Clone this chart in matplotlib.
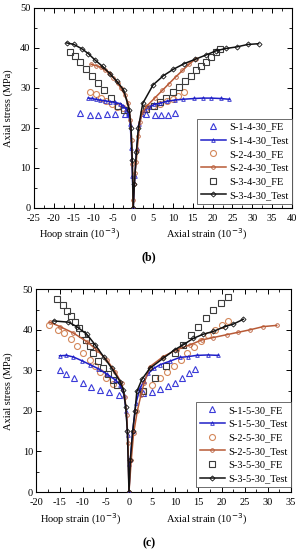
import matplotlib
matplotlib.use("Agg")
import matplotlib.pyplot as plt
from matplotlib.ticker import MultipleLocator

plt.rcParams['font.family'] = ['Liberation Serif', 'DejaVu Serif']
plt.rcParams['axes.unicode_minus'] = False
plt.rcParams['font.size'] = 7.5

# ---------------- Panel (b) data ----------------
b_names = ["S-1-4-30", "S-2-4-30", "S-3-4-30"]

b1_fe_x = [-13.3, -11.0, -8.8, -6.7, -4.6, -2.1, 3.3, 5.4, 7.1, 8.8, 10.4]
b1_fe_y = [23.6, 23.2, 23.2, 23.4, 23.4, 23.4, 23.4, 23.2, 23.2, 23.2, 23.6]
b1_t_x = [-11.3, -10.5, -9.5, -8.3, -7.0, -5.8, -4.5, -3.3, -2.5, -1.7, -1.2, -0.75, -0.45, -0.2, 0.0,
          0.4, 0.9, 1.5, 2.2, 2.9, 4.0, 5.3, 6.7, 8.5, 10.4, 12.5, 15.4, 17.5, 19.6, 22.0, 24.2]
b1_t_y = [27.4, 27.3, 27.1, 26.9, 26.7, 26.5, 26.3, 26.0, 25.5, 24.6, 23.5, 21.0, 15.0, 8.0, 0.0,
          8.0, 15.0, 21.0, 23.5, 24.4, 25.2, 25.8, 26.1, 26.6, 26.9, 27.1, 27.3, 27.4, 27.4, 27.3, 27.1]

b2_fe_x = [-10.8, -9.4, -8.1, -6.8, -5.4, -4.0, -2.5, 3.3, 5.0, 6.7, 8.4, 10.0, 11.4, 12.9]
b2_fe_y = [29.0, 28.35, 27.5, 26.7, 25.85, 25.25, 24.85, 24.8, 25.3, 25.9, 26.6, 27.2, 27.9, 29.0]
b2_t_x = [-10.6, -9.3, -8.1, -7.1, -6.0, -5.0, -3.9, -3.1, -2.1, -1.25, -0.7, -0.4, -0.2, 0.0,
          0.05, 0.25, 0.45, 0.75, 1.0, 1.3, 1.7, 2.3, 3.5, 5.5, 7.3, 9.0, 10.7, 12.4, 14.0, 15.7]
b2_t_y = [35.85, 35.5, 35.1, 34.4, 33.75, 32.5, 31.1, 29.85, 28.2, 26.1, 22.0, 17.0, 11.0, 0.0,
          2.0, 5.8, 8.7, 11.5, 14.5, 17.8, 21.5, 23.8, 25.5, 27.5, 29.3, 31.0, 32.7, 34.3, 35.8, 37.2]

b3_fe_x = [-16.0, -14.7, -13.4, -11.9, -10.5, -9.0, -7.3, -5.7, -3.8, -2.3,
           3.3, 5.2, 6.8, 8.3, 10.0, 11.6, 13.1, 14.6, 15.9, 17.1, 18.4, 19.6, 20.8, 21.8]
b3_fe_y = [39.0, 37.8, 36.3, 34.7, 33.0, 31.25, 29.3, 27.4, 25.5, 24.3,
           24.6, 25.4, 26.3, 27.4, 28.8, 30.2, 31.7, 33.0, 34.4, 35.5, 36.5, 37.6, 38.8, 39.6]
b3_t_x = [-16.8, -15.0, -12.9, -11.3, -9.6, -7.7, -5.9, -4.1, -2.4, -1.0, -0.55, -0.25, 0.0,
          0.3, 0.8, 1.3, 2.4, 5.0, 7.6, 10.1, 12.8, 15.6, 18.4, 20.8, 23.3, 26.1, 28.8, 31.6]
b3_t_y = [41.2, 40.85, 39.7, 38.5, 36.9, 35.3, 33.5, 31.6, 29.4, 24.5, 20.0, 12.0, 0.0,
          6.0, 14.0, 20.0, 26.1, 30.7, 33.0, 34.6, 36.0, 37.1, 38.2, 39.2, 39.8, 40.2, 40.8, 41.0]

# ---------------- Panel (c) data ----------------
c_names = ["S-1-5-30", "S-2-5-30", "S-3-5-30"]

c1_fe_x = [-15.0, -13.5, -11.9, -10.0, -8.25, -6.35, -4.3, -2.1, 3.1, 5.0, 6.7, 8.4, 10.0, 11.5, 12.9, 14.2]
c1_fe_y = [30.2, 29.2, 28.05, 26.8, 26.0, 25.2, 24.55, 23.95, 24.3, 24.7, 25.4, 26.1, 26.9, 28.0, 29.3, 30.3]
c1_t_x = [-15.0, -13.5, -12.0, -10.2, -8.4, -6.6, -4.8, -3.0, -1.9, -1.1, -0.6, -0.3, -0.1, 0.0,
          0.3, 0.8, 1.5, 2.4, 3.2, 4.2, 5.4, 6.7, 8.9, 11.0, 12.8, 14.6, 17.1, 19.3]
c1_t_y = [33.6, 33.7, 33.3, 32.4, 31.4, 30.4, 29.1, 27.7, 26.4, 24.0, 20.0, 14.0, 7.0, 0.0,
          8.0, 15.0, 21.9, 25.6, 27.3, 29.3, 30.5, 31.4, 32.3, 33.2, 33.4, 33.7, 33.8, 33.7]

c2_fe_x = [-17.2, -15.3, -14.0, -12.6, -11.2, -9.9, -8.5, -7.3, -6.3, -5.0, -3.4,
           3.1, 4.9, 6.6, 8.2, 9.8, 11.2, 12.6, 14.0, 15.5, 17.0, 18.5, 20.0, 21.4]
c2_fe_y = [41.3, 40.0, 39.2, 37.7, 35.9, 34.2, 32.6, 31.0, 29.5, 28.1, 26.7,
           25.0, 26.5, 28.0, 29.5, 31.0, 32.6, 34.2, 35.8, 37.3, 38.7, 40.0, 41.2, 42.3]
c2_t_x = [-17.1, -14.9, -12.0, -9.1, -7.0, -4.8, -3.0, -1.6, -0.9, -0.5, -0.2, 0.0,
          0.5, 1.0, 1.8, 2.6, 3.3, 4.5, 7.4, 10.3, 13.2, 15.7, 18.2, 21.1, 23.6, 26.1, 29.0, 31.9]
c2_t_y = [41.9, 40.8, 39.2, 37.1, 35.1, 32.6, 29.7, 26.8, 23.5, 19.0, 12.0, 0.0,
          8.0, 14.5, 20.0, 24.0, 27.0, 30.9, 33.4, 35.1, 36.3, 37.5, 38.1, 38.8, 39.4, 40.0, 40.8, 41.1]

c3_fe_x = [-15.5, -14.2, -13.3, -12.5, -11.7, -10.9, -10.1, -9.3, -8.5, -7.7, -6.6, -5.7, -4.6, -3.5, -2.6,
           3.1, 5.6, 8.0, 9.9, 11.6, 13.3, 15.0, 16.6, 18.2, 19.8, 21.4]
c3_fe_y = [47.5, 46.2, 44.7, 43.3, 41.9, 40.4, 38.9, 37.5, 35.9, 34.2, 32.2, 30.5, 29.1, 27.7, 26.4,
           24.8, 28.2, 31.2, 34.2, 36.3, 38.8, 40.8, 42.9, 44.9, 46.6, 48.2]
c3_t_x = [-16.3, -13.1, -11.3, -9.1, -7.3, -5.5, -3.7, -1.9, -1.2, -0.7, -0.35, 0.0,
          0.3, 0.8, 1.3, 1.7, 2.8, 4.5, 7.4, 9.9, 11.7, 13.9, 16.0, 18.2, 20.7, 22.5, 24.7]
c3_t_y = [42.2, 41.9, 40.8, 38.9, 36.3, 33.4, 30.5, 27.2, 25.2, 21.0, 15.0, 0.0,
          8.0, 15.0, 20.0, 24.8, 27.8, 30.5, 33.0, 35.1, 36.3, 37.9, 38.9, 39.6, 40.8, 41.4, 42.6]

b_xticks = list(range(-25, 41, 5))
c_xticks = list(range(-20, 36, 5))
yticks = [0, 10, 20, 30, 40, 50]

colors_fe = ['#3a3ad8', '#d4875a', '#3c3c3c']
colors_t = ['#1f1fc8', '#b85a36', '#111111']
fe_markers = ['^', 'o', 's']
t_markers = ['^', 'o', 'D']

fig = plt.figure(figsize=(2.99, 5.5), dpi=100)
ax_b = fig.add_axes([34 / 299, 1 - 207.7 / 550, 258 / 299, 200 / 550])
ax_c = fig.add_axes([36.4 / 299, 1 - 492 / 550, 254.6 / 299, 202.7 / 550])


def draw(ax, names, fe, tests, xlim, xticks, hoop_x, axial_x, legend_y0):
    for i, name in enumerate(names):
        fx, fy = fe[i]
        tx, ty = tests[i]
        ax.plot(fx, fy, linestyle='none', marker=fe_markers[i], ms=4.3,
                mfc='none', mec=colors_fe[i], mew=0.8, label=name + "_FE", zorder=3)
        ax.plot(tx, ty, color=colors_t[i], lw=1.1, marker=t_markers[i], ms=2.6,
                mfc='none', mec=colors_t[i], mew=0.6, label=name + "_Test", zorder=4)
    ax.set_xlim(*xlim)
    ax.set_ylim(0, 50)
    ax.set_xticks(xticks)
    ax.set_yticks(yticks)
    ax.xaxis.set_minor_locator(MultipleLocator(2.5))
    ax.yaxis.set_minor_locator(MultipleLocator(5))
    ax.tick_params(which='both', direction='in', top=True, right=True, labelsize=7.5)
    ax.tick_params(axis='x', which='major', pad=4.5)
    ax.tick_params(axis='y', which='major', pad=2.5)
    ax.tick_params(which='major', length=3.5, width=0.7)
    ax.tick_params(which='minor', length=2, width=0.6)
    for s in ax.spines.values():
        s.set_linewidth(0.8)
    ax.text(hoop_x, -0.135, "Hoop strain (10$^{-3}$)", transform=ax.get_xaxis_transform(),
            ha='center', va='center', fontsize=7.5)
    ax.text(axial_x, -0.135, "Axial strain (10$^{-3}$)", transform=ax.get_xaxis_transform(),
            ha='center', va='center', fontsize=7.5)
    leg = ax.legend(loc='lower right', bbox_to_anchor=(1.0, legend_y0), fontsize=7.5,
                    frameon=True, fancybox=False, edgecolor='#555555', framealpha=1,
                    handlelength=2.4, handletextpad=0.3, borderpad=0.35,
                    labelspacing=0.42, borderaxespad=0.0)
    leg.get_frame().set_linewidth(0.6)


draw(ax_b, b_names,
     [(b1_fe_x, b1_fe_y), (b2_fe_x, b2_fe_y), (b3_fe_x, b3_fe_y)],
     [(b1_t_x, b1_t_y), (b2_t_x, b2_t_y), (b3_t_x, b3_t_y)],
     (-25, 40), b_xticks, -13.4, 18.6, 0.02)
draw(ax_c, c_names,
     [(c1_fe_x, c1_fe_y), (c2_fe_x, c2_fe_y), (c3_fe_x, c3_fe_y)],
     [(c1_t_x, c1_t_y), (c2_t_x, c2_t_y), (c3_t_x, c3_t_y)],
     (-20, 35), c_xticks, -10.4, 16.8, 0.025)

fig.text(8 / 299, 1 - 107.7 / 550, "Axial stress (MPa)", rotation=90, ha='center', va='center', fontsize=7.5)
fig.text(8 / 299, 1 - 390.7 / 550, "Axial stress (MPa)", rotation=90, ha='center', va='center', fontsize=7.5)
fig.text(149 / 299, 1 - 257 / 550, "(b)", ha='center', va='center', fontsize=8.5, fontweight='bold')
fig.text(149 / 299, 1 - 543 / 550, "(c)", ha='center', va='center', fontsize=8.5, fontweight='bold')

fig.savefig("out.png", dpi=100)
